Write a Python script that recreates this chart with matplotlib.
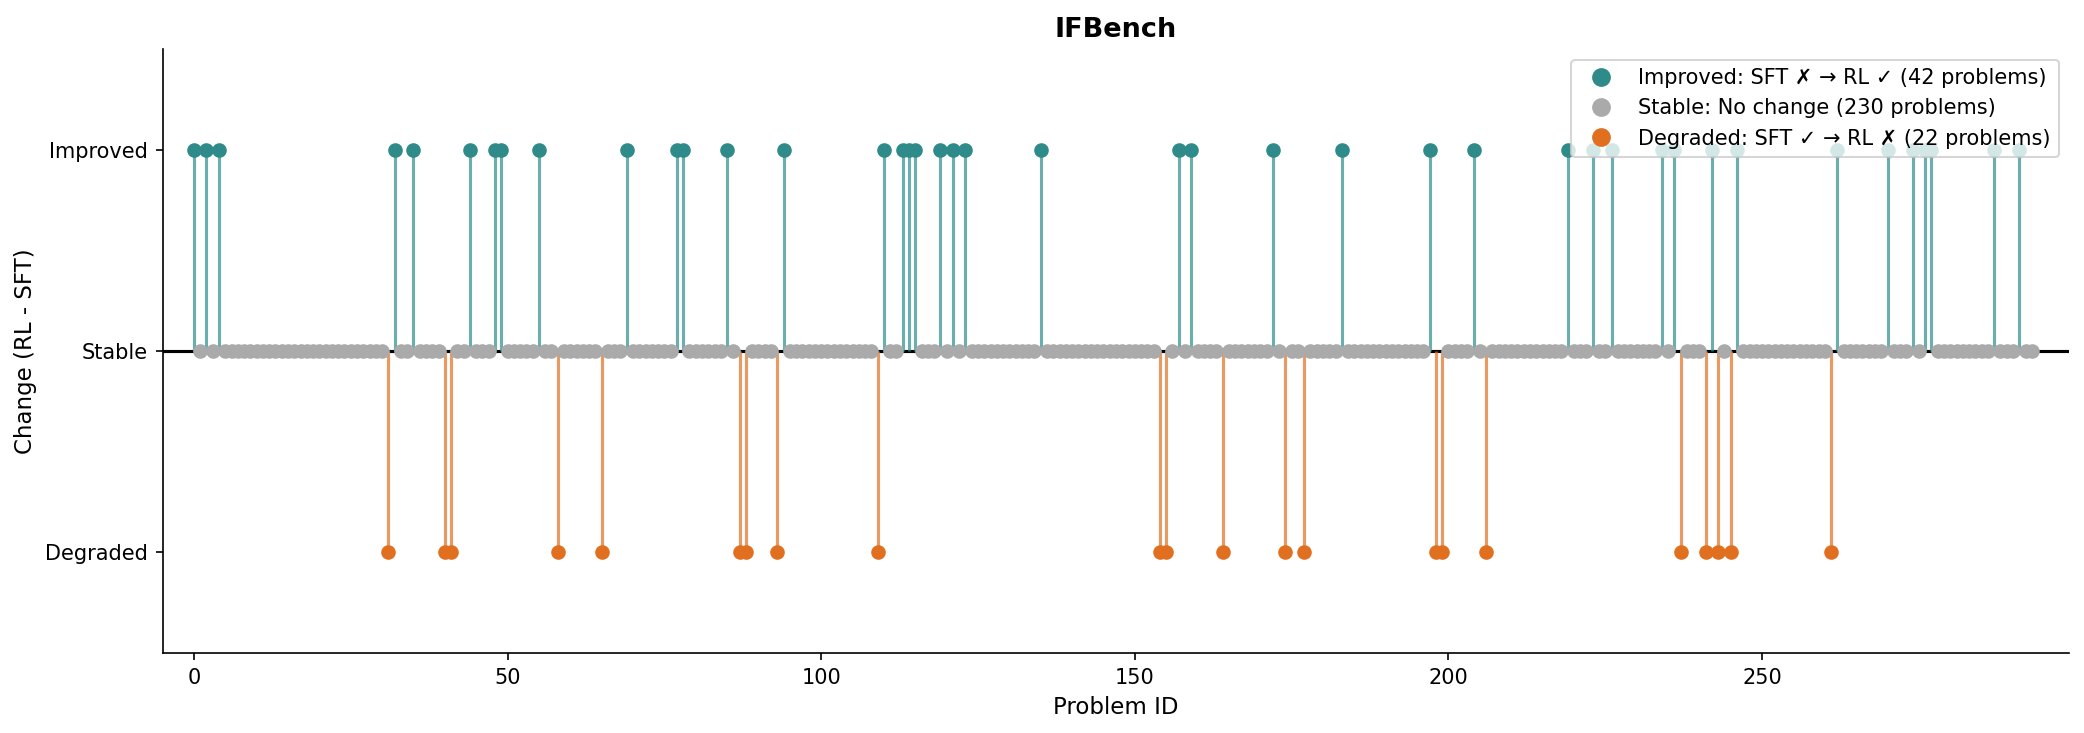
import numpy as np
import matplotlib
matplotlib.use("Agg")
import matplotlib.pyplot as plt
from matplotlib.lines import Line2D

n_problems = 294
improved_ids = [0, 2, 4, 32, 35, 44, 48, 49, 55, 69, 77, 78, 85, 94, 110, 113, 114,
                115, 119, 121, 123, 135, 157, 159, 172, 183, 197, 204, 219, 223, 226,
                234, 236, 242, 246, 262, 270, 274, 276, 277, 287, 291]
degraded_ids = [31, 40, 41, 58, 65, 87, 88, 93, 109, 154, 155, 164, 174, 177, 198,
                199, 206, 237, 241, 243, 245, 261]
stable_ids = [i for i in range(n_problems) if i not in improved_ids and i not in degraded_ids]

ytick_labels = ['Degraded', 'Stable', 'Improved']

c_imp = '#2e8b8a'
c_deg = '#e07020'
c_stab = '#aaaaaa'

fig = plt.figure(figsize=(2084 / 150, 733 / 150), dpi=150)
ax = fig.add_axes([0.078, 0.109, 0.915, 0.824])

ax.axhline(0, color='black', lw=1.5, zorder=1)

ax.vlines(improved_ids, 0, 1, colors=c_imp, alpha=0.7, lw=1.5, zorder=2)
ax.vlines(degraded_ids, 0, -1, colors=c_deg, alpha=0.7, lw=1.5, zorder=2)

ax.plot(stable_ids, np.zeros(len(stable_ids)), 'o', color=c_stab, ms=6, zorder=3)
ax.plot(improved_ids, np.ones(len(improved_ids)), 'o', color=c_imp, ms=6, zorder=3)
ax.plot(degraded_ids, -np.ones(len(degraded_ids)), 'o', color=c_deg, ms=6, zorder=3)

ax.set_xlim(-5, n_problems + 5)
ax.set_ylim(-1.5, 1.5)
ax.set_yticks([-1, 0, 1])
ax.set_yticklabels(ytick_labels, fontsize=10)
ax.tick_params(axis='x', labelsize=10)
ax.set_xlabel('Problem ID', fontsize=11)
ax.set_ylabel('Change (RL - SFT)', fontsize=11)
ax.set_title('IFBench', fontsize=13, fontweight='bold')
ax.spines['top'].set_visible(False)
ax.spines['right'].set_visible(False)

handles = [
    Line2D([], [], marker='o', ls='none', color=c_imp, ms=8,
           label=f'Improved: SFT \u2717 \u2192 RL \u2713 ({len(improved_ids)} problems)'),
    Line2D([], [], marker='o', ls='none', color=c_stab, ms=8,
           label=f'Stable: No change ({len(stable_ids)} problems)'),
    Line2D([], [], marker='o', ls='none', color=c_deg, ms=8,
           label=f'Degraded: SFT \u2713 \u2192 RL \u2717 ({len(degraded_ids)} problems)'),
]
ax.legend(handles=handles, loc='upper right', fontsize=10)

fig.savefig('out.png', dpi=150)
